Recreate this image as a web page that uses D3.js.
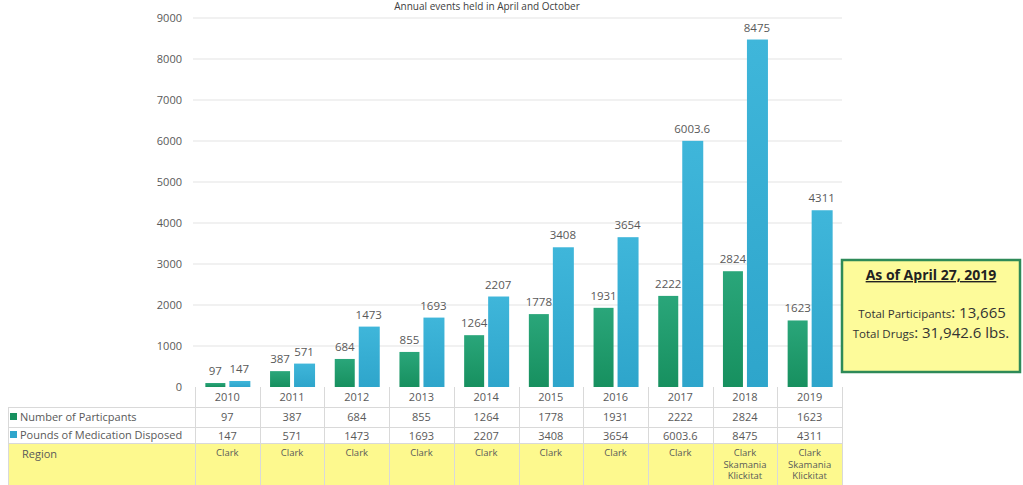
<!DOCTYPE html>
<html>
<head>
<meta charset="utf-8">
<script src="https://cdn.jsdelivr.net/npm/d3@7"></script>
<style>
  body { margin: 0; background: #fff; }
  svg text { font-family: "Open Sans", "Noto Sans", sans-serif; }
</style>
</head>
<body>
<div id="chart"></div>
<script>
// data
var years = ["2010","2011","2012","2013","2014","2015","2016","2017","2018","2019"];
var participants = [97, 387, 684, 855, 1264, 1778, 1931, 2222, 2824, 1623];
var pounds = [147, 571, 1473, 1693, 2207, 3408, 3654, 6003.6, 8475, 4311];
var regions = [["Clark"],["Clark"],["Clark"],["Clark"],["Clark"],["Clark"],["Clark"],["Clark"],
               ["Clark","Skamania","Klickitat"],["Clark","Skamania","Klickitat"]];
var yTicks = [0, 1000, 2000, 3000, 4000, 5000, 6000, 7000, 8000, 9000];
var seriesNames = ["Number of Particpants", "Pounds of Medication Disposed"];

var width = 1023, height = 485;
var textCol = "#595959", gridCol = "#e3e3e3";

var svg = d3.select("#chart").append("svg")
  .attr("width", width).attr("height", height);

var defs = svg.append("defs");
var gG = defs.append("linearGradient").attr("id", "gGreen").attr("x1",0).attr("y1",0).attr("x2",0).attr("y2",1);
gG.append("stop").attr("offset", "0%").attr("stop-color", "#2aa67a");
gG.append("stop").attr("offset", "100%").attr("stop-color", "#17905f");
var gB = defs.append("linearGradient").attr("id", "gBlue").attr("x1",0).attr("y1",0).attr("x2",0).attr("y2",1);
gB.append("stop").attr("offset", "0%").attr("stop-color", "#3fb6da");
gB.append("stop").attr("offset", "100%").attr("stop-color", "#2ea5cb");

// scales
var x = d3.scaleBand().domain(years).range([195, 842]);
var y = d3.scaleLinear().domain([0, 9000]).range([387, 18]);

// title
svg.append("text")
  .attr("x", 487).attr("y", 10)
  .attr("text-anchor", "middle")
  .style("font-size", "10px").style("fill", "#404040")
  .text("Annual events held in April and October");

// gridlines + y labels
svg.append("g").selectAll("line").data(yTicks.slice(1)).enter().append("line")
  .attr("x1", 193).attr("x2", 842)
  .attr("y1", function(d) { return y(d); }).attr("y2", function(d) { return y(d); })
  .attr("stroke", gridCol).attr("stroke-width", 1);

svg.append("g").selectAll("text").data(yTicks).enter().append("text")
  .attr("x", 182).attr("y", function(d) { return y(d) + 4; })
  .attr("text-anchor", "end")
  .style("font-size", "11px").style("fill", textCol)
  .text(function(d) { return d; });

// bars
var barW = 20, gap = 4;
var off = (x.bandwidth() - 2 * barW - gap) / 2;

var bars = svg.append("g");
bars.selectAll(".g").data(participants).enter().append("rect")
  .attr("x", function(d, i) { return x(years[i]) + off; })
  .attr("y", function(d) { return y(d); })
  .attr("width", barW)
  .attr("height", function(d) { return y(0) - y(d); })
  .attr("fill", "url(#gGreen)");
bars.selectAll(".b").data(pounds).enter().append("rect")
  .attr("x", function(d, i) { return x(years[i]) + off + barW + gap; })
  .attr("y", function(d) { return y(d); })
  .attr("width", barW + 1)
  .attr("height", function(d) { return y(0) - y(d); })
  .attr("fill", "url(#gBlue)");

// value labels
var lbl = svg.append("g").style("font-size", "11.5px").style("fill", textCol).attr("text-anchor", "middle");
lbl.selectAll(".lg").data(participants).enter().append("text")
  .attr("x", function(d, i) { return x(years[i]) + off + barW / 2; })
  .attr("y", function(d) { return y(d) - 8; })
  .text(function(d) { return d; });
lbl.selectAll(".lb").data(pounds).enter().append("text")
  .attr("x", function(d, i) { return x(years[i]) + off + barW + gap + barW / 2; })
  .attr("y", function(d) { return y(d) - 8; })
  .text(function(d) { return d; });

// data table
var rowY = [387, 407, 427, 443, 485];
var tbl = svg.append("g");

// region row background
tbl.append("rect").attr("x", 8).attr("y", rowY[3]).attr("width", 842 - 8).attr("height", rowY[4] - rowY[3])
  .attr("fill", "#fdf98e");

// horizontal lines
tbl.selectAll(".h").data([rowY[1], rowY[2], rowY[3]]).enter().append("line")
  .attr("x1", 8).attr("x2", 842)
  .attr("y1", function(d) { return d + 0.5; }).attr("y2", function(d) { return d + 0.5; })
  .attr("stroke", "#d9d9d9");

// vertical lines
var vx = years.map(function(d) { return x(d); }).concat([842]);
tbl.selectAll(".v").data(vx).enter().append("line")
  .attr("x1", function(d) { return Math.round(d) + 0.5; }).attr("x2", function(d) { return Math.round(d) + 0.5; })
  .attr("y1", rowY[0]).attr("y2", rowY[4])
  .attr("stroke", "#d9d9d9");
tbl.append("line").attr("x1", 8.5).attr("x2", 8.5).attr("y1", rowY[1]).attr("y2", rowY[4]).attr("stroke", "#d9d9d9");

var cellFont = "11px";
function cx(i) { return x(years[i]) + x.bandwidth() / 2; }

tbl.selectAll(".yr").data(years).enter().append("text")
  .attr("x", function(d, i) { return cx(i); }).attr("y", 401)
  .attr("text-anchor", "middle").style("font-size", cellFont).style("fill", textCol)
  .text(function(d) { return d; });
tbl.selectAll(".pv").data(participants).enter().append("text")
  .attr("x", function(d, i) { return cx(i); }).attr("y", 421)
  .attr("text-anchor", "middle").style("font-size", cellFont).style("fill", textCol)
  .text(function(d) { return d; });
tbl.selectAll(".bv").data(pounds).enter().append("text")
  .attr("x", function(d, i) { return cx(i); }).attr("y", 440)
  .attr("text-anchor", "middle").style("font-size", cellFont).style("fill", textCol)
  .text(function(d) { return d; });

// region cells, one text per line
regions.forEach(function(r, i) {
  r.forEach(function(s, k) {
    tbl.append("text").attr("x", cx(i)).attr("y", 456 + k * 11.5)
      .attr("text-anchor", "middle").style("font-size", "9.5px").style("fill", textCol)
      .text(s);
  });
});

// row headers
var keyCols = ["#17905f", "#2ea5cb"];
seriesNames.forEach(function(s, k) {
  var yy = rowY[1 + k];
  tbl.append("rect").attr("x", 10).attr("y", yy + 6 - k * 2).attr("width", 7).attr("height", 7).attr("fill", keyCols[k]);
  tbl.append("text").attr("x", 20).attr("y", yy + 14 - k * 2)
    .style("font-size", "11px").style("fill", textCol).text(s);
});
tbl.append("text").attr("x", 22).attr("y", 458)
  .style("font-size", "11px").style("fill", textCol).text("Region");

// annotation box
var box = svg.append("g");
box.append("rect").attr("x", 842).attr("y", 260).attr("width", 178).attr("height", 112)
  .attr("fill", "#fdfb9a").attr("stroke", "#2e8a58").attr("stroke-width", 2.5);
box.append("text").attr("x", 931).attr("y", 280).attr("text-anchor", "middle")
  .style("font-size", "14px").style("font-weight", "bold").style("fill", "#222")
  .style("text-decoration", "underline")
  .text("As of April 27, 2019");
var t1 = box.append("text").attr("x", 932).attr("y", 318).attr("text-anchor", "middle").style("fill", "#333");
t1.append("tspan").style("font-size", "11.5px").text("Total Participants");
t1.append("tspan").style("font-size", "15px").text(": 13,665");
var t2 = box.append("text").attr("x", 931).attr("y", 338).attr("text-anchor", "middle").style("fill", "#333");
t2.append("tspan").style("font-size", "11.5px").text("Total Drugs");
t2.append("tspan").style("font-size", "15px").text(": 31,942.6 lbs.");
</script>
</body>
</html>
